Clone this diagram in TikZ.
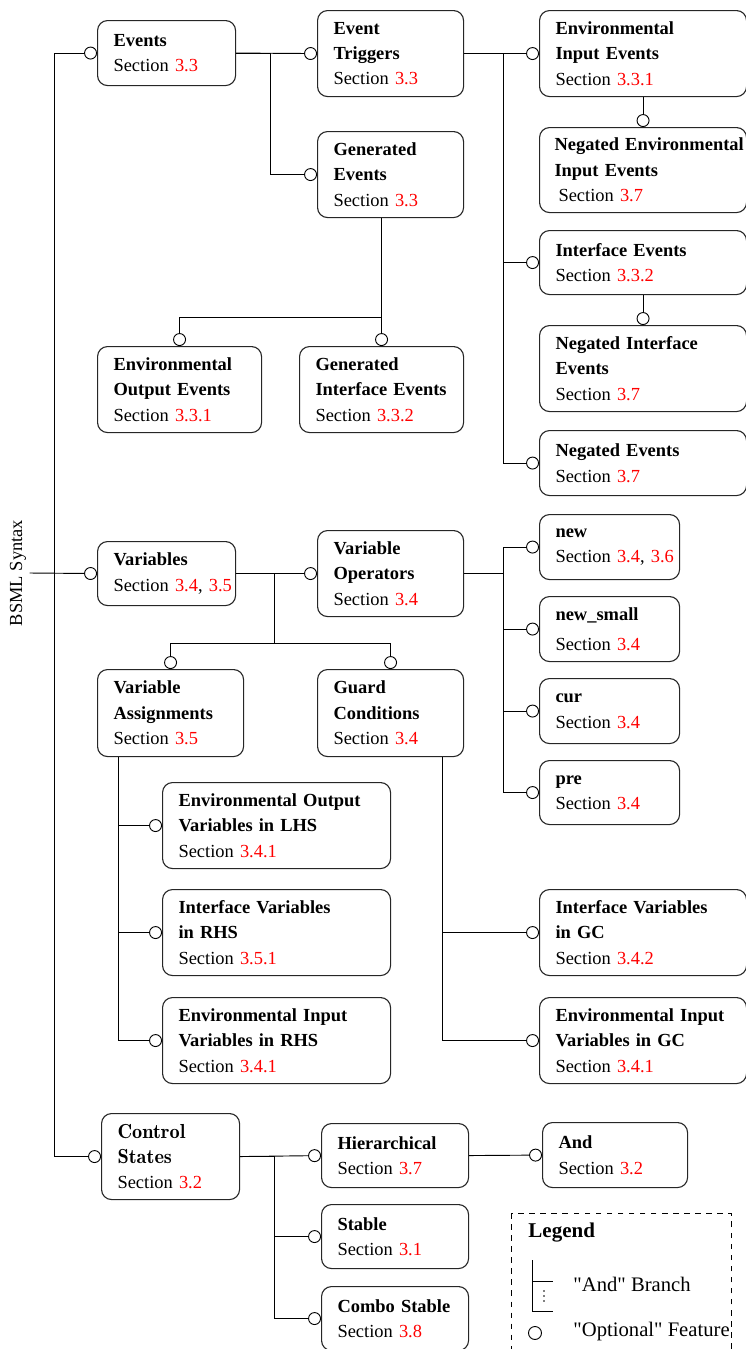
\documentclass[tikz,border=0pt]{standalone}
\usepackage{fontspec}
\setmainfont{Liberation Serif}[Ligatures=TeXOff]
\usetikzlibrary{arrows.meta}

\newdimen\pxu \pxu=0.5423pt
\newcommand{\sref}[1]{\textcolor{red}{#1}}
\newcommand{\lmbx}[1]{{\fontfamily{lmr}\fontsize{11}{13.8}\selectfont\bfseries #1}}

\begin{document}
\begin{tikzpicture}[x=\pxu, y=-\pxu, line width=0.5pt,
    feat/.style={draw=black!85, line width=0.6pt, rounded corners=10\pxu, anchor=north west, align=left,
                 inner xsep=16\pxu, inner ysep=0pt, font=\linespread{1.15}\selectfont},
    opt/.style={-{Circle[open,length=7pt]}},
    lgd/.style={font=\fontsize{11.2}{13.5}\selectfont, inner sep=0pt}]
    \useasboundingbox (0,0) rectangle (746,1349);

    % events
    \node[feat, text width=106\pxu, minimum height=65\pxu] (events) at (97,20) {\textbf{Events}\\Section \sref{3.3}};
    \node[feat, text width=114\pxu, minimum height=86\pxu] (trig) at (317,10) {\textbf{Event}\\\textbf{Triggers}\\Section \sref{3.3}};
    \node[feat, text width=114\pxu, minimum height=86\pxu] (geng) at (317,131) {\textbf{Generated}\\\textbf{Events}\\Section \sref{3.3}};
    \node[feat, text width=175\pxu, minimum height=86\pxu] (envin) at (539,10) {\textbf{Environmental}\\\textbf{Input Events}\\Section \sref{3.3.1}};
    \node[feat, text width=177\pxu, minimum height=85\pxu, inner xsep=15\pxu] (negenvin) at (539,127) {\textbf{\mbox{Negated Environmental}}\\\textbf{Input Events}\\\hspace*{4\pxu}Section \sref{3.7}};
    \node[feat, text width=175\pxu, minimum height=64\pxu] (ifev) at (539,230) {\textbf{Interface Events}\\Section \sref{3.3.2}};
    \node[feat, text width=175\pxu, minimum height=86\pxu] (negif) at (539,325) {\textbf{Negated Interface}\\\textbf{Events}\\Section \sref{3.7}};
    \node[feat, text width=175\pxu, minimum height=65\pxu] (negev) at (539,430) {\textbf{Negated Events}\\Section \sref{3.7}};
    \node[feat, text width=132\pxu, minimum height=86\pxu] (envout) at (97,346) {\textbf{Environmental}\\\textbf{Output Events}\\Section \sref{3.3.1}};
    \node[feat, text width=132\pxu, minimum height=86\pxu] (genif) at (299,346) {\textbf{Generated}\\\textbf{\mbox{Interface Events}}\\Section \sref{3.3.2}};

    % variables
    \node[feat, text width=106\pxu, minimum height=64\pxu] (vars) at (97,541) {\textbf{Variables}\\\mbox{Section \sref{3.4}, \sref{3.5}}};
    \node[feat, text width=114\pxu, minimum height=86\pxu] (varop) at (317,530) {\textbf{Variable}\\\textbf{Operators}\\Section \sref{3.4}};
    \node[feat, text width=108\pxu, minimum height=65\pxu] (new) at (539,514) {\textbf{new}\\\mbox{Section \sref{3.4}, \sref{3.6}}};
    \node[feat, text width=108\pxu, minimum height=65\pxu] (newsm) at (539,596) {\textbf{new\_small}\\[5\pxu]Section \sref{3.4}};
    \node[feat, text width=108\pxu, minimum height=65\pxu] (cur) at (539,678) {\textbf{cur}\\Section \sref{3.4}};
    \node[feat, text width=108\pxu, minimum height=64\pxu] (pre) at (539,760) {\textbf{pre}\\Section \sref{3.4}};
    \node[feat, text width=114\pxu, minimum height=87\pxu] (assign) at (97,669) {\textbf{Variable}\\\textbf{Assignments}\\Section \sref{3.5}};
    \node[feat, text width=114\pxu, minimum height=87\pxu] (guard) at (317,669) {\textbf{Guard}\\\textbf{Conditions}\\Section \sref{3.4}};
    \node[feat, text width=196\pxu, minimum height=86\pxu] (outlhs) at (162,782) {\textbf{Environmental Output}\\\textbf{Variables in LHS}\\Section \sref{3.4.1}};
    \node[feat, text width=196\pxu, minimum height=86\pxu] (ifrhs) at (162,889) {\textbf{Interface Variables}\\\textbf{in RHS}\\Section \sref{3.5.1}};
    \node[feat, text width=196\pxu, minimum height=86\pxu] (inrhs) at (162,997) {\textbf{Environmental Input}\\\textbf{Variables in RHS}\\Section \sref{3.4.1}};
    \node[feat, text width=175\pxu, minimum height=86\pxu] (ifgc) at (539,889) {\textbf{Interface Variables}\\\textbf{in GC}\\Section \sref{3.4.2}};
    \node[feat, text width=175\pxu, minimum height=86\pxu] (ingc) at (539,997) {\textbf{Environmental Input}\\\textbf{Variables in GC}\\Section \sref{3.4.1}};

    % control states
    \node[feat, text width=106\pxu, minimum height=86\pxu] (ctrl) at (101,1113) {\lmbx{Control}\\\lmbx{States}\\Section \sref{3.2}};
    \node[feat, text width=115\pxu, minimum height=64\pxu] (hier) at (321,1123) {\textbf{Hierarchical}\\Section \sref{3.7}};
    \node[feat, text width=115\pxu, minimum height=64\pxu] (stable) at (321,1204) {\textbf{Stable}\\Section \sref{3.1}};
    \node[feat, text width=115\pxu, minimum height=64\pxu] (combo) at (321,1286) {\textbf{Combo Stable}\\Section \sref{3.8}};
    \node[feat, text width=113\pxu, minimum height=65\pxu] (andst) at (542,1122) {\textbf{And}\\Section \sref{3.2}};

    \node[rotate=90, inner sep=3\pxu] (bsml) at (18,573) {BSML Syntax};
    \coordinate (trunk) at (54,573);
    \draw[opt] (bsml.south) -- (vars.west);
    \draw[opt] (trunk) |- (events.west);
    \draw[opt] (trunk) |- (ctrl.west);

    \draw[opt] (events.east) -- (trig.west);
    \draw[opt] (events.east) -- ++(34,0) |- (geng.west);
    \draw[opt] (trig.east) -- (envin.west);
    \draw[opt] (trig.east) -- ++(39,0) |- (ifev.west);
    \draw[opt] (trig.east) -- ++(39,0) |- (negev.west);
    \draw[opt] (envin.south) -- (negenvin.north);
    \draw[opt] (ifev.south) -- (negif.north);
    \draw[opt] (geng.south -| genif.north) -- (genif.north);
    \draw[opt] (geng.south -| genif.north) -- ++(0,99) -| (envout.north);

    \draw[opt] (vars.east) -- (varop.west);
    \draw[opt] (vars.east) -- ++(38,0) -- ++(0,70) -| (assign.north);
    \draw[opt] (vars.east) -- ++(38,0) -- ++(0,70) -| (guard.north);
    \draw[opt] (varop.east) -- ++(39,0) |- (new.west);
    \draw[opt] (varop.east) -- ++(39,0) |- (newsm.west);
    \draw[opt] (varop.east) -- ++(39,0) |- (cur.west);
    \draw[opt] (varop.east) -- ++(39,0) |- (pre.west);
    \draw[opt] (assign.south) ++(-52,0) |- (outlhs.west);
    \draw[opt] (assign.south) ++(-52,0) |- (ifrhs.west);
    \draw[opt] (assign.south) ++(-52,0) |- (inrhs.west);
    \draw[opt] (guard.south) ++(52,0) |- (ifgc.west);
    \draw[opt] (guard.south) ++(52,0) |- (ingc.west);

    \draw[opt] (ctrl.east) -- (hier.west);
    \draw[opt] (ctrl.east) -- ++(34,0) |- (stable.west);
    \draw[opt] (ctrl.east) -- ++(34,0) |- (combo.west);
    \draw[opt] (hier.east) -- (andst.west);

    % legend
    \draw[dashed] (511,1213) rectangle (731,1370);
    \node[anchor=base west, inner sep=0pt, font=\fontsize{11.4}{13.7}\selectfont\bfseries] (legend) at (528,1237) {Legend};
    \draw (532,1260) -- (532,1311) -- (553,1311) (532,1281) -- (553,1281);
    \foreach \y in {1291,1296,1301} \fill (544,\y) circle[radius=0.9\pxu];
    \node[lgd, anchor=west] (andlbl) at (573,1284) {"And" Branch};
    \node[draw, circle, minimum size=13\pxu, inner sep=0pt] (optmark) at (535,1333) {};
    \node[lgd, anchor=west] (optlbl) at (573,1332) {"Optional" Feature};
\end{tikzpicture}
\end{document}
